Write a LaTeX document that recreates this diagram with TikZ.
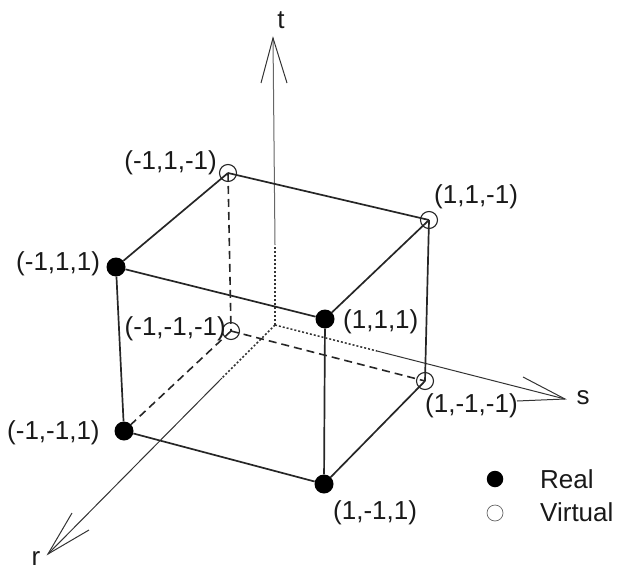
\documentclass[tikz,border=0pt]{standalone}
\usepackage{fontspec}
\setmainfont{Liberation Sans}
\begin{document}
\begin{tikzpicture}[x=1bp,y=-1bp,
  edge/.style={line width=1.7bp,black!85},
  hidden/.style={line width=1.6bp,black!85,dash pattern=on 8bp off 5bp},
  axis/.style={line width=1bp,black!80},
  axdot/.style={line width=1.5bp,black!80,dash pattern=on 2bp off 2bp},
  real/.style={circle,fill=black,inner sep=0pt,minimum size=19bp},
  virt/.style={circle,draw=black!85,line width=1.1bp,fill=none,inner sep=0pt,minimum size=17bp},
  lab/.style={font=\fontsize{26bp}{26bp}\selectfont,inner sep=0pt,text=black!90}]
\useasboundingbox (0,0) rectangle (618,571);
\coordinate (O) at (275,325);
\coordinate (tTip) at (273,38);
\coordinate (tDot) at (275,245);
\coordinate (tL) at (261,83);
\coordinate (tR) at (287,83);
\coordinate (sTip) at (565,399);
\coordinate (sDot) at (377,351);
\coordinate (sU) at (523,377);
\coordinate (sD) at (517,401);
\coordinate (rTip) at (48,554);
\coordinate (rDot) at (222,378);
\coordinate (rU) at (72,513);
\coordinate (rD) at (89,530);
\node[virt] (A) at (228,173) {};
\node[virt] (B) at (429,220) {};
\node[real] (C) at (116,267) {};
\node[real] (D) at (325,319) {};
\node[virt] (E) at (231,331) {};
\node[virt] (F) at (425,381) {};
\node[real] (G) at (124,431) {};
\node[real] (H) at (324,484) {};
\node[real,minimum size=16.5bp] (LR) at (495,479) {};
\node[circle,draw=black!60,line width=0.7bp,inner sep=0pt,minimum size=16bp] (LV) at (495,513) {};
% axes
\draw[axis,black!60] (tDot) -- (tTip);
\draw[axis] (tL) -- (tTip) -- (tR);
\draw[axdot] (O) -- (tDot);
\draw[axdot] (O) -- (sDot);
\draw[axis] (sDot) -- (sTip);
\draw[axis] (sU) -- (sTip) -- (sD);
\draw[axdot] (O) -- (rDot);
\draw[axis] (rDot) -- (rTip);
\draw[axis] (rU) -- (rTip) -- (rD);
% edges
\draw[edge] (A.center) -- (B.center);
\draw[edge] (A.center) -- (C);
\draw[edge] (B.center) -- (D);
\draw[edge] (C) -- (D);
\draw[edge] (C) -- (G);
\draw[edge] (D) -- (H);
\draw[edge] (B.center) -- (F.center);
\draw[edge] (F.center) -- (H);
\draw[edge] (G) -- (H);
\draw[hidden] (A.center) -- (E.center);
\draw[hidden] (E.center) -- (F.center);
\draw[hidden] (E.center) -- (G);
% labels
\node[lab,anchor=east] (lA) at (217,163) {(-1,1,-1)};
\node[lab,anchor=west] (lB) at (434,197) {(1,1,-1)};
\node[lab,anchor=west] (lC) at (16,264) {(-1,1,1)};
\node[lab,anchor=west] (lD) at (343,322) {(1,1,1)};
\node[lab,anchor=east] (lE) at (226,329) {(-1,-1,-1)};
\node[lab,anchor=west] (lF) at (425,406) {(1,-1,-1)};
\node[lab,anchor=west] (lG) at (7,433) {(-1,-1,1)};
\node[lab,anchor=west] (lH) at (333,513) {(1,-1,1)};
\node[lab,anchor=base] (lt) at (281,29) {t};
\node[lab,anchor=base] (ls) at (583,404) {s};
\node[lab,anchor=base] (lr) at (36,565) {r};
\node[lab,anchor=west] (lReal) at (540,479) {Real};
\node[lab,anchor=west] (lVirt) at (540,512) {Virtual};
\end{tikzpicture}
\end{document}
